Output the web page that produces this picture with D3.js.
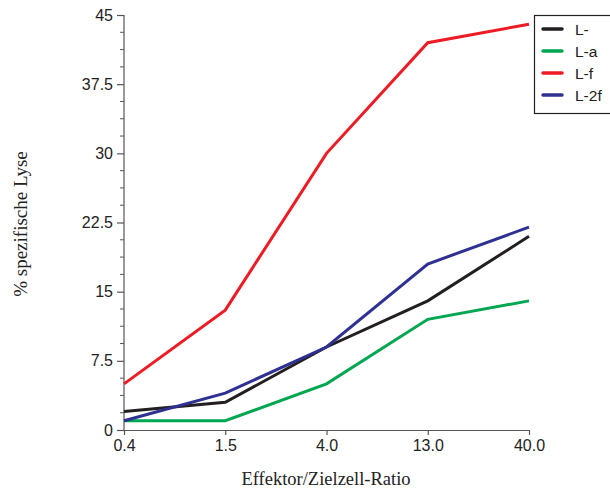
<!DOCTYPE html>
<html>
<head>
<meta charset="utf-8">
<script src="https://cdn.jsdelivr.net/npm/d3@7"></script>
<style>
  body { margin: 0; background: #fff; }
  svg { display: block; }
</style>
</head>
<body>
<svg id="chart" width="610" height="490"></svg>
<script>
// Effector-to-target ratios (categorical x axis)
const ratios = ["0.4", "1.5", "4.0", "13.0", "40.0"];

// Specific lysis (%) per construct
const seriesNames = ["L-", "L-a", "L-f", "L-2f"];
const lMinus = [2, 3, 9, 14, 21];
const lA = [1, 1, 5, 12, 14];
const lF = [5, 13, 30, 42, 44];
const l2F = [1, 4, 9, 18, 22];

const yTicks = [0, 7.5, 15, 22.5, 30, 37.5, 45];
const yTickLabels = ["0", "7.5", "15", "22.5", "30", "37.5", "45"];

const colors = ["#231f20", "#00a651", "#ed1c24", "#2e3192"];
const seriesValues = [lMinus, lA, lF, l2F];

const sansFont = "Liberation Sans, Arial, sans-serif";
const serifFont = "Liberation Serif, Times New Roman, serif";

const svg = d3.select("#chart");
const plotLeft = 124, plotRight = 529, plotTop = 15, plotBottom = 430;

const x = d3.scalePoint().domain(ratios).range([plotLeft, plotRight]);
const y = d3.scaleLinear().domain([0, 45]).range([plotBottom, plotTop]);

// Y axis with minor ticks
const yMinor = d3.range(0, 45.001, 1.875).filter(v => !yTicks.includes(v));
const yAxisG = svg.append("g").attr("transform", `translate(${plotLeft},0)`);
yAxisG.append("line")
  .attr("x1", 0).attr("x2", 0).attr("y1", y(0)).attr("y2", y(45))
  .attr("stroke", "#555").attr("stroke-width", 1.2);
yAxisG.selectAll(".minor").data(yMinor).join("line")
  .attr("class", "minor")
  .attr("x1", -4).attr("x2", 0)
  .attr("y1", d => y(d)).attr("y2", d => y(d))
  .attr("stroke", "#555").attr("stroke-width", 1);
const yAxisMajor = yAxisG.append("g");
yAxisMajor.call(d3.axisLeft(y).tickValues(yTicks)
    .tickFormat((d, i) => yTickLabels[i]).tickSize(7).tickPadding(4))
  .call(g => g.select(".domain").remove())
  .call(g => g.selectAll(".tick line").attr("stroke", "#555").attr("stroke-width", 1.2))
  .call(g => g.selectAll(".tick text")
    .attr("font-family", sansFont)
    .attr("font-size", 16).attr("fill", "#222"));

// X axis
svg.append("g").attr("transform", `translate(0,${plotBottom})`)
  .call(d3.axisBottom(x).tickSize(5).tickSizeOuter(0).tickPadding(5))
  .call(g => g.select(".domain").attr("stroke", "#555").attr("stroke-width", 1.2))
  .call(g => g.selectAll(".tick line").attr("stroke", "#555").attr("stroke-width", 1.2))
  .call(g => g.selectAll(".tick text")
    .attr("font-family", sansFont)
    .attr("font-size", 16).attr("fill", "#222"));

// Series lines
const line = d3.line().x((d, i) => x(ratios[i])).y(d => y(d));
seriesValues.forEach((vals, k) => {
  svg.append("path")
    .datum(vals)
    .attr("d", line)
    .attr("fill", "none")
    .attr("stroke", colors[k])
    .attr("stroke-width", 3)
    .attr("stroke-linejoin", "miter");
});

// Axis titles
svg.append("text")
  .attr("x", 326).attr("y", 485)
  .attr("text-anchor", "middle")
  .attr("font-family", serifFont)
  .attr("font-size", 18.5).attr("fill", "#222")
  .text("Effektor/Zielzell-Ratio");

svg.append("text")
  .attr("transform", "translate(27,224) rotate(-90)")
  .attr("text-anchor", "middle")
  .attr("font-family", serifFont)
  .attr("font-size", 19).attr("fill", "#222")
  .text("% spezifische Lyse");

// Legend
const legend = svg.append("g");
legend.append("rect")
  .attr("x", 534.5).attr("y", 15.5).attr("width", 90).attr("height", 98)
  .attr("fill", "#fff").attr("stroke", "#222").attr("stroke-width", 1.2);
seriesNames.forEach((name, k) => {
  const ly = 29 + k * 22;
  legend.append("line")
    .attr("x1", 543).attr("x2", 562).attr("y1", ly).attr("y2", ly)
    .attr("stroke", colors[k]).attr("stroke-width", 3.5).attr("stroke-linecap", "round");
  legend.append("text")
    .attr("x", 575).attr("y", ly + 5.5)
    .attr("font-family", sansFont)
    .attr("font-size", 15.5).attr("fill", "#222")
    .text(name);
});
</script>
</body>
</html>
